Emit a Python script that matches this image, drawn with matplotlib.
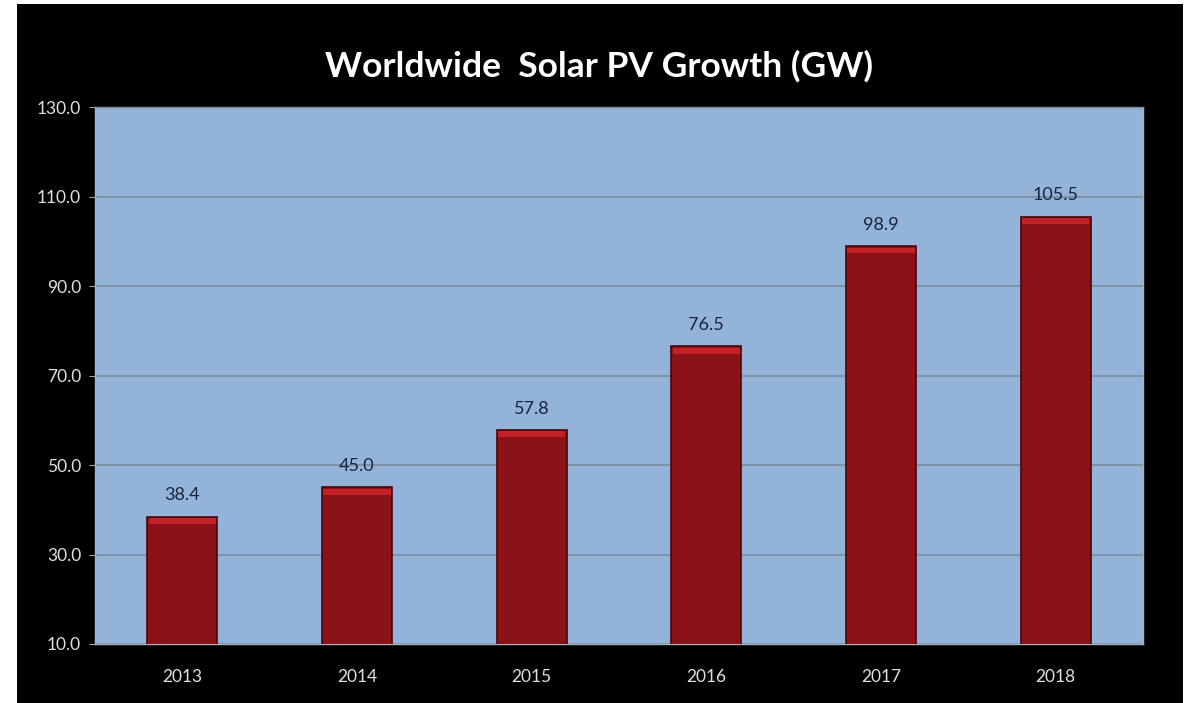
import matplotlib.pyplot as plt
from matplotlib.patches import Rectangle

# datos
years = ["2013", "2014", "2015", "2016", "2017", "2018"]
gw = [38.4, 45.0, 57.8, 76.5, 98.9, 105.5]
yticks = [10, 30, 50, 70, 90, 110, 130]

fig = plt.figure(figsize=(11.93, 7.03), dpi=100, facecolor="white")
# fondo negro
fig.patches.append(Rectangle((17 / 1193, 0), (1183 - 17) / 1193, 1 - 4 / 703,
                             transform=fig.transFigure, facecolor="black",
                             edgecolor="none", zorder=-10))

ax = fig.add_axes([95 / 1193, 1 - 644 / 703, (1143 - 95) / 1193, (644 - 107) / 703])
ax.set_facecolor("#93b3d8")

x = range(len(years))
bars = ax.bar(x, gw, width=0.4, bottom=0, color="#8a1218", edgecolor="#4a0608",
              linewidth=1.2, zorder=3)
# brillo superior de las barras
for b in bars:
    ax.bar(b.get_x() + b.get_width() / 2, 1.3, width=b.get_width() * 0.96,
           bottom=b.get_height() - 1.6, color="#c42228", linewidth=0, zorder=4)

for i, v in enumerate(gw):
    ax.text(i, v + 3, f"{v:.1f}", ha="center", va="bottom", fontsize=13,
            color="#17263a", family="Lato", zorder=5)

ax.set_ylim(10, 130)
ax.set_xlim(-0.5, len(years) - 0.5)
ax.set_yticks(yticks)
ax.set_yticklabels([f"{t:.1f}" for t in yticks])
ax.set_xticks(list(x))
ax.set_xticklabels(years)
ax.grid(axis="y", color="#7d8c9c", linewidth=1.2, zorder=1)
ax.set_axisbelow(True)

for lbl in ax.get_xticklabels() + ax.get_yticklabels():
    lbl.set_color("#e0e0e0")
    lbl.set_fontsize(12.5)
    lbl.set_family("Lato")
ax.tick_params(axis="y", length=4, color="#9aa4b0", pad=6)
ax.tick_params(axis="x", length=0, pad=18)
for s in ax.spines.values():
    s.set_color("#aab4c0")
    s.set_linewidth(1)
ax.spines["top"].set_color("#7d8c9c")

fig.text(0.502, 1 - 66 / 703, "Worldwide  Solar PV Growth (GW)", ha="center",
         va="center", color="white", fontsize=25.5, fontweight="bold", family="Lato")

fig.savefig("out.png", dpi=100, facecolor=fig.get_facecolor())
